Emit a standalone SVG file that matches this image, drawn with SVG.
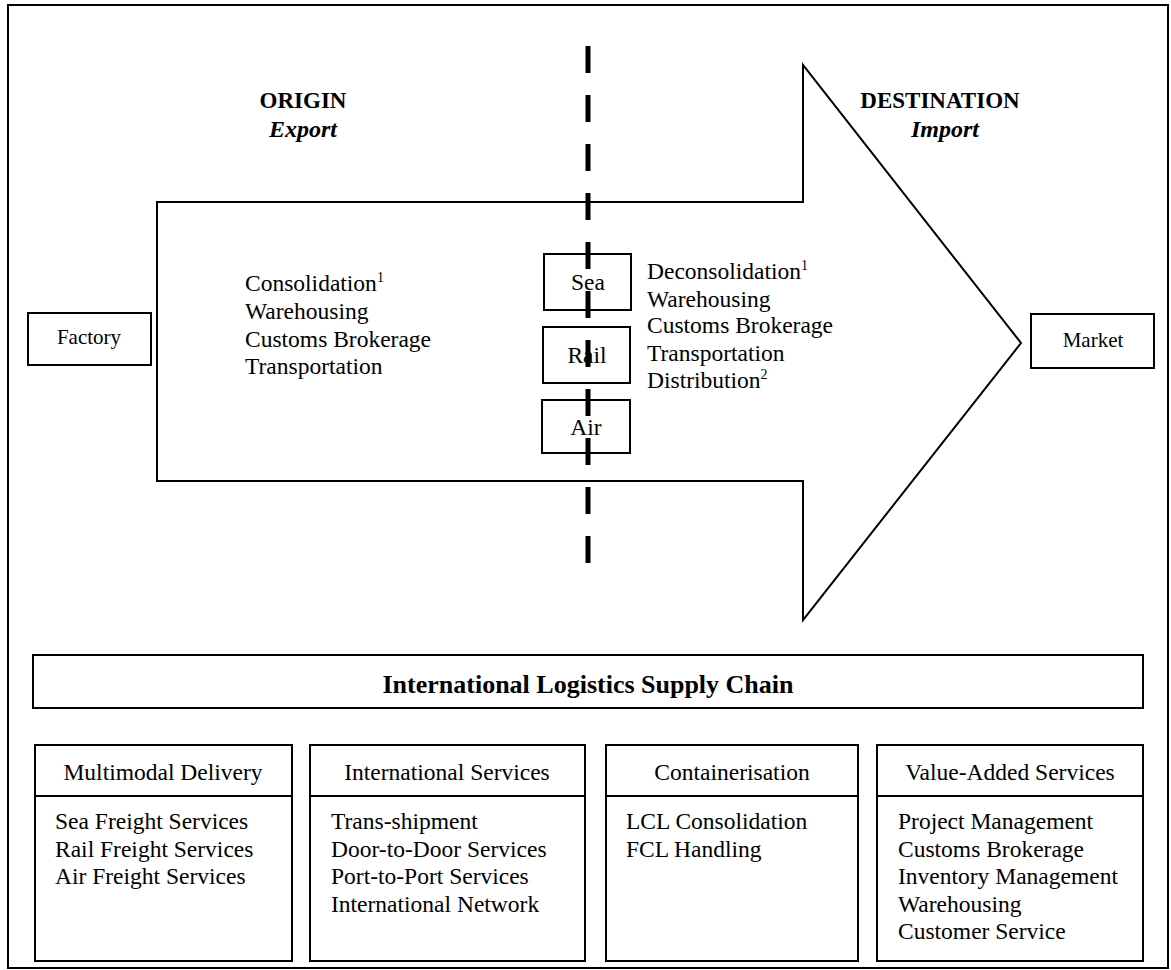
<svg xmlns="http://www.w3.org/2000/svg" width="1171" height="970" viewBox="0 0 1171 970">
<style>
  .ln { fill: none; stroke: #000; stroke-width: 2; }
  .bx { fill: #fff; stroke: #000; stroke-width: 2; }
  .t { font-family: "Liberation Serif", "Times New Roman", serif; font-size: 23.5px; fill: #000; }
  .s { font-family: "Liberation Serif", "Times New Roman", serif; font-size: 21px; fill: #000; }
  .hb { font-family: "Liberation Serif", "Times New Roman", serif; font-size: 23px; font-weight: bold; fill: #000; }
  .hi { font-family: "Liberation Serif", "Times New Roman", serif; font-size: 24px; font-weight: bold; font-style: italic; fill: #000; }
  .ti { font-family: "Liberation Serif", "Times New Roman", serif; font-size: 26px; font-weight: bold; fill: #000; }
  .c { text-anchor: middle; }
  .sup { font-size: 14px; }
</style>
<rect x="8" y="5" width="1160" height="963" fill="#fff" stroke="#000" stroke-width="2"/>

<g id="flow-arrow">
  <polygon class="bx" points="157,202 803,202 803,65 1021,343 803,620 803,481 157,481"/>
</g>

<g id="origin-label">
  <text class="hb c" x="303" y="108">ORIGIN</text>
  <text class="hi c" x="303" y="137">Export</text>
</g>
<g id="destination-label">
  <text class="hb c" x="940" y="108">DESTINATION</text>
  <text class="hi c" x="945" y="137">Import</text>
</g>

<g id="origin-services">
  <text class="t" x="245" y="291">Consolidation<tspan class="sup" dy="-9">1</tspan></text>
  <text class="t" x="245" y="319">Warehousing</text>
  <text class="t" x="245" y="347">Customs Brokerage</text>
  <text class="t" x="245" y="374">Transportation</text>
</g>
<g id="destination-services">
  <text class="t" x="647" y="279">Deconsolidation<tspan class="sup" dy="-9">1</tspan></text>
  <text class="t" x="647" y="307">Warehousing</text>
  <text class="t" x="647" y="333">Customs Brokerage</text>
  <text class="t" x="647" y="361">Transportation</text>
  <text class="t" x="647" y="388">Distribution<tspan class="sup" dy="-9">2</tspan></text>
</g>

<g id="factory">
  <rect class="bx" x="28" y="313" width="123" height="52"/>
  <text class="s c" x="89" y="344">Factory</text>
</g>
<g id="market">
  <rect class="bx" x="1031" y="314" width="123" height="54"/>
  <text class="s c" x="1093" y="347">Market</text>
</g>

<g id="sea">
  <rect class="bx" x="544" y="254" width="87" height="56"/>
  <text class="t c" x="588" y="290">Sea</text>
</g>
<g id="rail">
  <rect class="bx" x="543" y="327" width="87" height="56"/>
  <text class="t c" x="587" y="363">Rail</text>
</g>
<g id="air">
  <rect class="bx" x="542" y="400" width="88" height="53"/>
  <text class="t c" x="586" y="435">Air</text>
</g>

<g id="connectors">
  <line x1="588" y1="46" x2="588" y2="582" stroke="#000" stroke-width="5" stroke-dasharray="27 22"/>
</g>

<g id="supply-chain-title">
  <rect class="bx" x="33" y="655" width="1110" height="53"/>
  <text class="ti c" x="588" y="693">International Logistics Supply Chain</text>
</g>

<g id="multimodal-delivery">
  <rect class="bx" x="35" y="745" width="257" height="216"/>
  <line class="ln" x1="35" y1="796" x2="292" y2="796"/>
  <text class="t c" x="163" y="780">Multimodal Delivery</text>
  <text class="t" x="55" y="829">Sea Freight Services</text>
  <text class="t" x="55" y="857">Rail Freight Services</text>
  <text class="t" x="55" y="884">Air Freight Services</text>
</g>
<g id="international-services">
  <rect class="bx" x="310" y="745" width="275" height="216"/>
  <line class="ln" x1="310" y1="796" x2="585" y2="796"/>
  <text class="t c" x="447" y="780">International Services</text>
  <text class="t" x="331" y="829">Trans-shipment</text>
  <text class="t" x="331" y="857">Door-to-Door Services</text>
  <text class="t" x="331" y="884">Port-to-Port Services</text>
  <text class="t" x="331" y="912">International Network</text>
</g>
<g id="containerisation">
  <rect class="bx" x="606" y="745" width="252" height="216"/>
  <line class="ln" x1="606" y1="796" x2="858" y2="796"/>
  <text class="t c" x="732" y="780">Containerisation</text>
  <text class="t" x="626" y="829">LCL Consolidation</text>
  <text class="t" x="626" y="857">FCL Handling</text>
</g>
<g id="value-added-services">
  <rect class="bx" x="877" y="745" width="266" height="216"/>
  <line class="ln" x1="877" y1="796" x2="1143" y2="796"/>
  <text class="t c" x="1010" y="780">Value-Added Services</text>
  <text class="t" x="898" y="829">Project Management</text>
  <text class="t" x="898" y="857">Customs Brokerage</text>
  <text class="t" x="898" y="884">Inventory Management</text>
  <text class="t" x="898" y="912">Warehousing</text>
  <text class="t" x="898" y="939">Customer Service</text>
</g>
</svg>
